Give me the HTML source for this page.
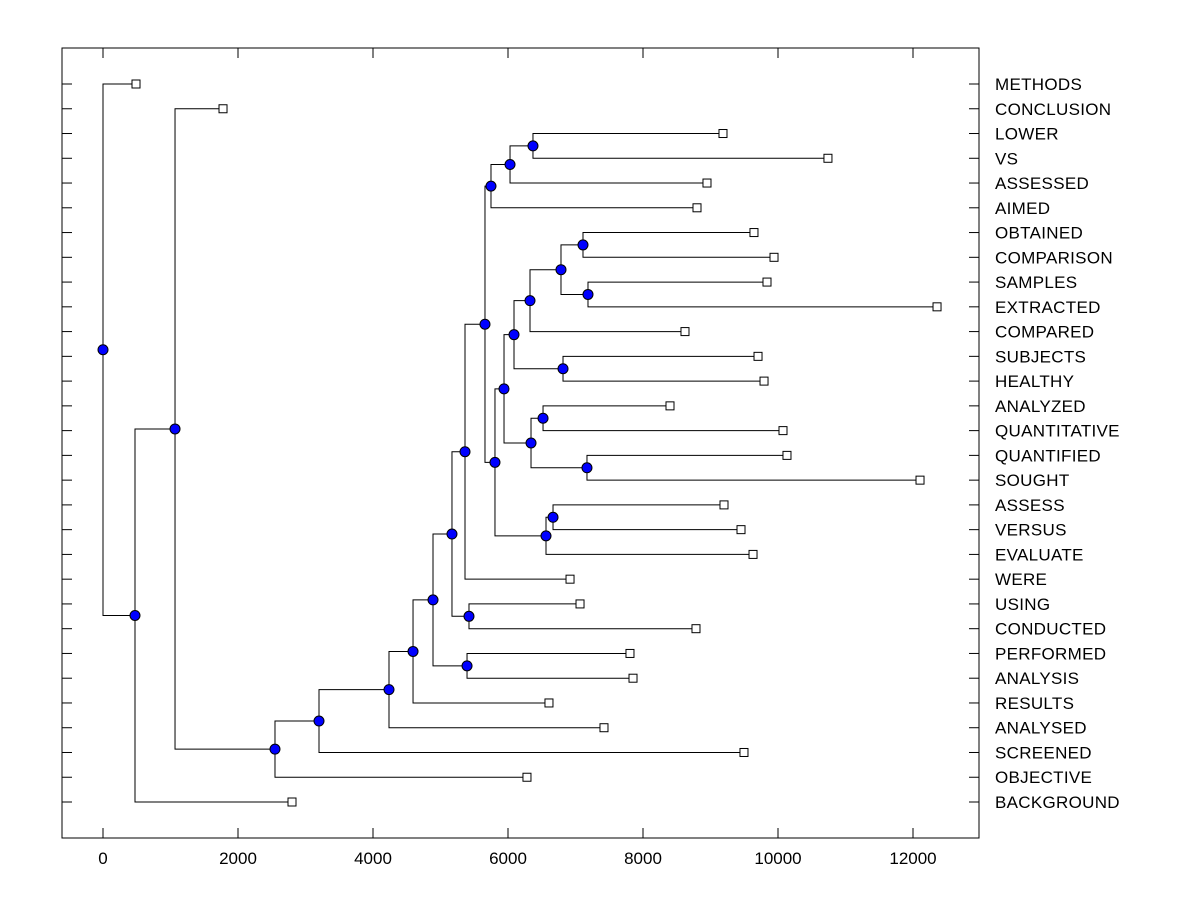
<!DOCTYPE html>
<html><head><meta charset="utf-8"><style>
html,body{margin:0;padding:0;background:#fff;width:1200px;height:900px;overflow:hidden}
text{font-family:"Liberation Sans",Arial,sans-serif}
</style></head><body>
<svg id="chart" width="1200" height="900" xmlns="http://www.w3.org/2000/svg"></svg>
<script>
const leafNames = ["METHODS","CONCLUSION","LOWER","VS","ASSESSED","AIMED","OBTAINED","COMPARISON","SAMPLES","EXTRACTED","COMPARED","SUBJECTS","HEALTHY","ANALYZED","QUANTITATIVE","QUANTIFIED","SOUGHT","ASSESS","VERSUS","EVALUATE","WERE","USING","CONDUCTED","PERFORMED","ANALYSIS","RESULTS","ANALYSED","SCREENED","OBJECTIVE","BACKGROUND"];
const leafValues = [489,1778,9185,10740,8948,8800,9644,9941,9837,12356,8622,9704,9793,8400,10074,10133,12104,9200,9452,9630,6919,7067,8785,7807,7852,6607,7422,9496,6281,2800];
const mergeHeights=[6370,6030,5748,7111,7185,6785,6326,6815,6089,6519,7170,6341,5941,6667,6563,5807,5659,5363,5422,5170,5393,4889,4593,4237,3200,2548,1067,474,0];
const xTicks = [0,2000,4000,6000,8000,10000,12000];
const pairs = [
 [2,3],[30,4],[31,5],[6,7],[8,9],[33,34],[35,10],[11,12],[36,37],[13,14],[15,16],[39,40],[38,41],[17,18],[43,19],[42,44],[32,45],[46,20],[21,22],[47,48],[23,24],[49,50],[51,25],[52,26],[53,27],[54,28],[1,55],[56,29],[0,57]
];
</script>
<script>
const svg = document.getElementById('chart');
const NS = 'http://www.w3.org/2000/svg';
const L=62,R=979,T=48,B=838;
const xs = v => 103 + v*0.0675;
const rowY = i => 84 + i*(802-84)/29;
function mk(tag, attrs){const e=document.createElementNS(NS,tag);for(const k in attrs)e.setAttribute(k,attrs[k]);svg.appendChild(e);return e;}
const frame = mk('rect',{x:L,y:T,width:R-L,height:B-T,fill:'none',stroke:'#000','stroke-width':1});


xTicks.forEach(t=>{
  const x=xs(t);
  const a=mk('line',{x1:x,x2:x,y1:B,y2:B-10,stroke:'#000'});
  
  
  const b=mk('line',{x1:x,x2:x,y1:T,y2:T+10,stroke:'#000'});
  
  
  const tx=mk('text',{x:x,y:864,'text-anchor':'middle','font-size':17});
  tx.textContent=t;
  
  
});
leafNames.forEach((n,i)=>{
  const y=rowY(i);
  const a=mk('line',{x1:L,x2:L+10,y1:y,y2:y,stroke:'#000'});
  
  
  const b=mk('line',{x1:R-10,x2:R,y1:y,y2:y,stroke:'#000'});
  
  
  const tx=mk('text',{x:995,y:y+6,'font-size':17,'letter-spacing':0.3});
  tx.textContent=n;
  
  
});
const nodeX = leafValues.map(v=>xs(v));
const nodeY = leafNames.map((n,i)=>rowY(i));
const circles=[];
pairs.forEach((p,k)=>{
  const x=xs(mergeHeights[k]);
  const [a,b]=p;
  const ya=nodeY[a], yb=nodeY[b];
  const pl=mk('polyline',{points:`${nodeX[a]},${ya} ${x},${ya} ${x},${yb} ${nodeX[b]},${yb}`,fill:'none',stroke:'#000','stroke-width':1});
  
  
  nodeX.push(x); nodeY.push((ya+yb)/2);
  circles.push([x,(ya+yb)/2]);
});
leafValues.forEach((v,i)=>{
  const r=mk('rect',{x:xs(v)-4,y:rowY(i)-4,width:8,height:8,fill:'#fff',stroke:'#000'});
  
  
});
circles.forEach(c=>{
  const e=mk('circle',{cx:c[0],cy:c[1],r:5,fill:'#0000ff',stroke:'#000'});
  
  
});
</script>
</body></html>
